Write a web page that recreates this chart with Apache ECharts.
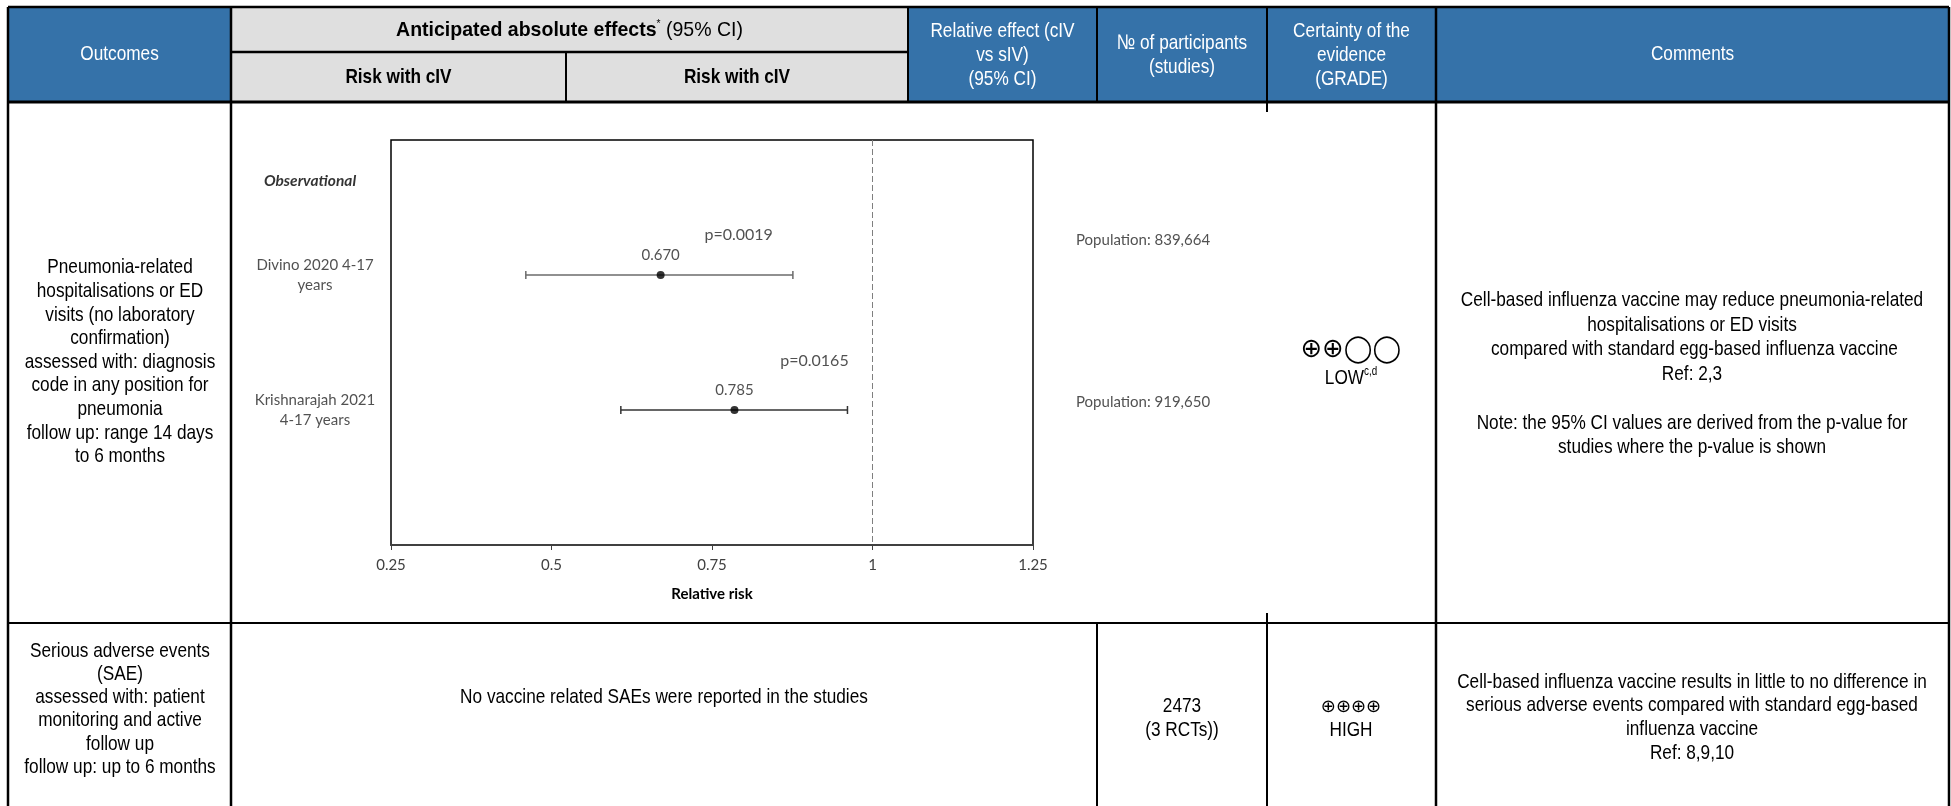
<!DOCTYPE html>
<html><head><meta charset="utf-8">
<script src="https://cdn.jsdelivr.net/npm/echarts@6/dist/echarts.min.js"></script>
<style>html,body{margin:0;padding:0;background:#fff;}#c{width:1951px;height:806px;}</style>
</head><body><div id="c"></div>
<script>
// ---------- data ----------
const groupLabel = 'Observational';
const studies = ['Divino 2020 4-17\nyears', 'Krishnarajah 2021\n4-17 years'];
const rr = [0.670, 0.785];
const ciLow = [0.460, 0.608];
const ciHigh = [0.876, 0.961];
const pValues = ['p=0.0019', 'p=0.0165'];
const populations = ['Population: 839,664', 'Population: 919,650'];
const rowPos = [1, 2];
const groupPos = 0.3;
const xTickLabels = ['0.25', '0.5', '0.75', '1', '1.25'];
const refValue = 1;

// ---------- styles / layout ----------
const NARROW = "'Liberation Sans Narrow','Arial Narrow','Liberation Sans',Arial,sans-serif";
const CAL = "Lato,'Open Sans',sans-serif";
const SYM = "'DejaVu Sans',sans-serif";
const BLUE = '#3572a9', GRAY = '#dfdfdf';
const SX = 0.82; // horizontal condensing to mimic a narrow face

function txt(x, y, text, opt, sx) {
  return {type: 'text', z: 100, x: x, y: y, scaleX: sx === undefined ? SX : sx, scaleY: 1,
    style: Object.assign({x: 0, y: 0, text: text, align: 'center', verticalAlign: 'middle',
    fontFamily: NARROW, fontSize: 21, lineHeight: 24, fill: '#000'}, opt || {})};
}
function ln(x1, y1, x2, y2, w) {
  return {type: 'line', z: 90, shape: {x1: x1, y1: y1, x2: x2, y2: y2}, style: {stroke: '#000', lineWidth: w || 2}};
}
function rect(x, y, w, h, fill) {
  return {type: 'rect', z: 80, shape: {x: x, y: y, width: w, height: h}, style: {fill: fill}};
}

const L = 8, R = 1949, TOP = 7, HB = 102, ROW2 = 623, BOT = 806;
const C1 = 231, CS = 566, C2 = 908, C3 = 1097, C4 = 1267, C5 = 1436;

const graphics = [
  rect(L, TOP, C1 - L, HB - TOP, BLUE),
  rect(C1, TOP, C2 - C1, HB - TOP, GRAY),
  rect(C2, TOP, R - C2, HB - TOP, BLUE),
  ln(L, TOP, R, TOP, 2.5),
  ln(L, HB, R, HB, 3),
  ln(L, ROW2, R, ROW2, 2),
  ln(L, TOP, L, BOT, 2.5),
  ln(R, TOP, R, BOT, 2.5),
  ln(C1, TOP, C1, BOT, 2.5),
  ln(C1, 52, C2, 52, 2.5),
  ln(CS, 52, CS, HB, 2),
  ln(C2, TOP, C2, HB, 2),
  ln(C3, TOP, C3, HB, 2),
  ln(C3, ROW2, C3, BOT, 2),
  ln(C4, TOP, C4, 112, 2),
  ln(C4, 613, C4, BOT, 2),
  ln(C5, TOP, C5, BOT, 2.5),
  // header texts
  txt(119.5, 54, 'Outcomes', {fill: '#fff'}),
  txt(569.5, 30, '{b|Anticipated absolute effects}{s|*}{n| (95% CI)}', {
    rich: {b: {fontFamily: NARROW, fontSize: 21, fontWeight: 'bold', lineHeight: 24, fill: '#000'},
           s: {fontFamily: NARROW, fontSize: 11, verticalAlign: 'top', lineHeight: 14, fill: '#000'},
           n: {fontFamily: NARROW, fontSize: 21, lineHeight: 24, fill: '#000'}}}, 0.93),
  txt((C1 + CS) / 2, 77, 'Risk with cIV', {fontWeight: 'bold'}),
  txt((CS + C2) / 2, 77, 'Risk with cIV', {fontWeight: 'bold'}),
  txt((C2 + C3) / 2, 55, 'Relative effect (cIV\nvs sIV)\n(95% CI)', {fill: '#fff'}),
  txt((C3 + C4) / 2, 55, '№ of participants\n(studies)', {fill: '#fff'}),
  txt((C4 + C5) / 2, 55, 'Certainty of the\nevidence\n(GRADE)', {fill: '#fff'}),
  txt((C5 + R) / 2, 54, 'Comments', {fill: '#fff'}),
  // row 1
  txt(120, 362, 'Pneumonia-related\nhospitalisations or ED\nvisits (no laboratory\nconfirmation)\nassessed with: diagnosis\ncode in any position for\npneumonia\nfollow up: range 14 days\nto 6 months', {lineHeight: 23.6}),
  txt(1351, 350, '⊕⊕◯◯', {fontFamily: SYM, fontSize: 27}, 0.95),
  txt(1351, 378, '{a|LOW}{s|c,d}', {
    rich: {a: {fontFamily: NARROW, fontSize: 21, lineHeight: 24, fill: '#000'},
           s: {fontFamily: NARROW, fontSize: 12, verticalAlign: 'top', lineHeight: 18, fill: '#000'}}}),
  txt(1692, 374, 'Cell-based influenza vaccine may reduce pneumonia-related\nhospitalisations or ED visits\n compared with standard egg-based influenza vaccine\nRef: 2,3\n\nNote: the 95% CI values are derived from the p-value for\nstudies where the p-value is shown', {lineHeight: 24.5}),
  // row 2
  txt(120, 709, 'Serious adverse events\n(SAE)\nassessed with: patient\nmonitoring and active\nfollow up\nfollow up: up to 6 months', {lineHeight: 23.3}),
  txt((C1 + C3) / 2, 697, 'No vaccine related SAEs were reported in the studies'),
  txt((C3 + C4) / 2, 718, '2473\n(3 RCTs))'),
  txt(1351, 707, '⊕⊕⊕⊕', {fontFamily: SYM, fontSize: 18}, 1),
  txt(1351, 730, 'HIGH'),
  txt(1692, 717.5, 'Cell-based influenza vaccine results in little to no difference in\nserious adverse events compared with standard egg-based\ninfluenza vaccine\nRef: 8,9,10', {lineHeight: 23.7})
];

const chart = echarts.init(document.getElementById('c'), null, {renderer: 'canvas'});
const pOffsets = [[78, -40], [80, -49]];
const popOffsets = [[43, -35], [43, -8]];

const option = {
  animation: false,
  backgroundColor: '#fff',
  graphic: {elements: graphics},
  grid: {left: 391, top: 140, width: 642, height: 405, show: true, borderColor: '#000', borderWidth: 1.5,
    backgroundColor: 'transparent', containLabel: false},
  xAxis: {
    type: 'value', min: 0.25, max: 1.25, interval: 0.25,
    axisLine: {show: true, onZero: false, lineStyle: {color: '#404040', width: 2}},
    axisTick: {show: true, inside: false, length: 5, lineStyle: {color: '#404040', width: 1}},
    axisLabel: {margin: 13, fontFamily: CAL, fontSize: 15, color: '#404040',
      formatter: function (v, i) { return xTickLabels[i] !== undefined ? xTickLabels[i] : String(v); }},
    splitLine: {show: false},
    name: 'Relative risk', nameLocation: 'middle', nameGap: 42,
    nameTextStyle: {fontFamily: CAL, fontWeight: 'bold', fontSize: 15, color: '#000'}
  },
  yAxis: {type: 'value', min: 0, max: 3, inverse: true, show: false},
  series: [
    {
      type: 'custom', name: 'CI',
      data: studies.map(function (s, i) { return [ciLow[i], ciHigh[i], rowPos[i]]; }),
      encode: {x: [0, 1], y: 2},
      renderItem: function (params, api) {
        const y = api.value(2);
        const p1 = api.coord([api.value(0), y]);
        const p2 = api.coord([api.value(1), y]);
        const h = 4, st = {stroke: params.dataIndex === 0 ? '#6b6b6b' : '#333333', lineWidth: 1.5};
        return {type: 'group', children: [
          {type: 'line', shape: {x1: p1[0], y1: p1[1], x2: p2[0], y2: p2[1]}, style: st},
          {type: 'line', shape: {x1: p1[0], y1: p1[1] - h, x2: p1[0], y2: p1[1] + h}, style: st},
          {type: 'line', shape: {x1: p2[0], y1: p2[1] - h, x2: p2[0], y2: p2[1] + h}, style: st}
        ]};
      }
    },
    {
      type: 'scatter', name: 'RR', symbolSize: 8, itemStyle: {color: '#000'}, z: 5,
      data: rr.map(function (v, i) { return [v, rowPos[i]]; }),
      label: {show: true, position: 'top', distance: 8, fontFamily: CAL, fontSize: 15, color: '#262626',
        formatter: function (p) { return rr[p.dataIndex].toFixed(3); }},
      markLine: {silent: true, symbol: 'none', label: {show: false},
        lineStyle: {color: '#7f7f7f', type: [6, 3], width: 1},
        data: [{xAxis: refValue}]}
    },
    {
      type: 'scatter', name: 'p', symbolSize: 1, itemStyle: {color: 'transparent'},
      data: rr.map(function (v, i) {
        return {value: [v, rowPos[i]], label: {offset: pOffsets[i]}};
      }),
      label: {show: true, position: 'inside', align: 'center', verticalAlign: 'middle',
        fontFamily: CAL, fontSize: 16, color: '#262626',
        formatter: function (p) { return pValues[p.dataIndex]; }}
    },
    {
      type: 'scatter', name: 'studies', symbolSize: 1, itemStyle: {color: 'transparent'}, clip: false,
      data: studies.map(function (s, i) { return [0.25, rowPos[i]]; }),
      label: {show: true, position: 'inside', align: 'center', verticalAlign: 'middle', offset: [-76, 0],
        fontFamily: CAL, fontSize: 15, lineHeight: 20, color: '#262626',
        formatter: function (p) { return studies[p.dataIndex]; }}
    },
    {
      type: 'scatter', name: 'group', symbolSize: 1, itemStyle: {color: 'transparent'}, clip: false,
      data: [[0.25, groupPos]],
      label: {show: true, position: 'inside', align: 'center', verticalAlign: 'middle', offset: [-81, 0],
        fontFamily: CAL, fontSize: 15.5, fontWeight: 'bold', fontStyle: 'italic', color: '#000',
        formatter: function () { return groupLabel; }}
    },
    {
      type: 'scatter', name: 'population', symbolSize: 1, itemStyle: {color: 'transparent'}, clip: false,
      data: populations.map(function (s, i) {
        return {value: [1.25, rowPos[i]], label: {offset: popOffsets[i]}};
      }),
      label: {show: true, position: 'inside', align: 'left', verticalAlign: 'middle',
        fontFamily: CAL, fontSize: 15, color: '#262626',
        formatter: function (p) { return populations[p.dataIndex]; }}
    }
  ]
};
chart.setOption(option);
</script>
</body></html>
